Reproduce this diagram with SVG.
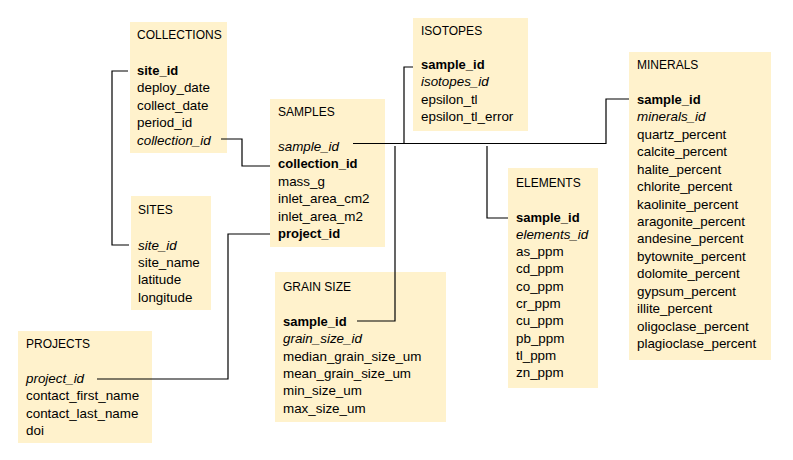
<svg xmlns="http://www.w3.org/2000/svg" width="793" height="460" viewBox="0 0 793 460">
<style>
.box{fill:#FFF2CC}
text{font-family:"Liberation Sans",Arial,sans-serif;font-size:13.4px;fill:#000}
.t{font-size:12px}
.b{font-weight:bold;font-size:13px}
.i{font-style:italic}
.c{fill:none;stroke:#000;stroke-width:1.2}
</style>
<rect width="793" height="460" fill="#fff"/>
<g id="collections">
<rect class="box" x="130" y="22" width="97" height="131"/>
<text class="t" x="137" y="39.3">COLLECTIONS</text>
<text class="b" x="137" y="75">site_id</text>
<text x="137" y="92.4">deploy_date</text>
<text x="137" y="109.8">collect_date</text>
<text x="137" y="127.2">period_id</text>
<text class="i" x="137" y="144.6">collection_id</text>
</g>
<g id="samples">
<rect class="box" x="270" y="99" width="115" height="148"/>
<text class="t" x="278" y="116">SAMPLES</text>
<text class="i" x="278" y="151">sample_id</text>
<text class="b" x="278" y="168.4">collection_id</text>
<text x="278" y="185.8">mass_g</text>
<text x="278" y="203.2">inlet_area_cm2</text>
<text x="278" y="220.6">inlet_area_m2</text>
<text class="b" x="278" y="238">project_id</text>
</g>
<g id="sites">
<rect class="box" x="131" y="196" width="80" height="114"/>
<text class="t" x="138" y="214">SITES</text>
<text class="i" x="138" y="249.5">site_id</text>
<text x="138" y="267">site_name</text>
<text x="138" y="284.4">latitude</text>
<text x="138" y="301.8">longitude</text>
</g>
<g id="projects">
<rect class="box" x="18" y="331" width="134" height="112"/>
<text class="t" x="26" y="348">PROJECTS</text>
<text class="i" x="26" y="383">project_id</text>
<text x="26" y="400.4">contact_first_name</text>
<text x="26" y="417.8">contact_last_name</text>
<text x="26" y="435.2">doi</text>
</g>
<g id="grain-size">
<rect class="box" x="275" y="272" width="171" height="150"/>
<text class="t" x="283" y="291">GRAIN SIZE</text>
<text class="b" x="283" y="326">sample_id</text>
<text class="i" x="283" y="343.3">grain_size_id</text>
<text x="283" y="360.6">median_grain_size_um</text>
<text x="283" y="377.9">mean_grain_size_um</text>
<text x="283" y="395.2">min_size_um</text>
<text x="283" y="412.5">max_size_um</text>
</g>
<g id="isotopes">
<rect class="box" x="413" y="18" width="115" height="113"/>
<text class="t" x="421" y="35">ISOTOPES</text>
<text class="b" x="421" y="69">sample_id</text>
<text class="i" x="421" y="86.4">isotopes_id</text>
<text x="421" y="103.8">epsilon_tl</text>
<text x="421" y="121.2">epsilon_tl_error</text>
</g>
<g id="elements">
<rect class="box" x="508" y="168" width="90" height="220"/>
<text class="t" x="516" y="187">ELEMENTS</text>
<text class="b" x="516" y="221.5">sample_id</text>
<text class="i" x="516" y="238.8">elements_id</text>
<text x="516" y="256.1">as_ppm</text>
<text x="516" y="273.4">cd_ppm</text>
<text x="516" y="290.7">co_ppm</text>
<text x="516" y="308">cr_ppm</text>
<text x="516" y="325.3">cu_ppm</text>
<text x="516" y="342.6">pb_ppm</text>
<text x="516" y="359.9">tl_ppm</text>
<text x="516" y="377.2">zn_ppm</text>
</g>
<g id="minerals">
<rect class="box" x="629" y="52" width="142" height="308"/>
<text class="t" x="637" y="69">MINERALS</text>
<text class="b" x="637" y="104">sample_id</text>
<text class="i" x="637" y="121.4">minerals_id</text>
<text x="637" y="138.9">quartz_percent</text>
<text x="637" y="156.3">calcite_percent</text>
<text x="637" y="173.7">halite_percent</text>
<text x="637" y="191.2">chlorite_percent</text>
<text x="637" y="208.6">kaolinite_percent</text>
<text x="637" y="226">aragonite_percent</text>
<text x="637" y="243.4">andesine_percent</text>
<text x="637" y="260.9">bytownite_percent</text>
<text x="637" y="278.3">dolomite_percent</text>
<text x="637" y="295.7">gypsum_percent</text>
<text x="637" y="313.2">illite_percent</text>
<text x="637" y="330.6">oligoclase_percent</text>
<text x="637" y="348">plagioclase_percent</text>
</g>
<g id="connectors">
<path class="c" d="M128,71 H112 V245 H129"/>
<path class="c" d="M221,139 H242 V166 H270"/>
<path class="c" d="M270,234 H228 V379 H97"/>
<path class="c" d="M353,143.5 H606 V99 H629"/>
<path class="c" d="M404,143.5 V67 H413"/>
<path class="c" d="M395,146 V321 H357"/>
<path class="c" d="M487,146 V218 H508"/>
</g>
</svg>
